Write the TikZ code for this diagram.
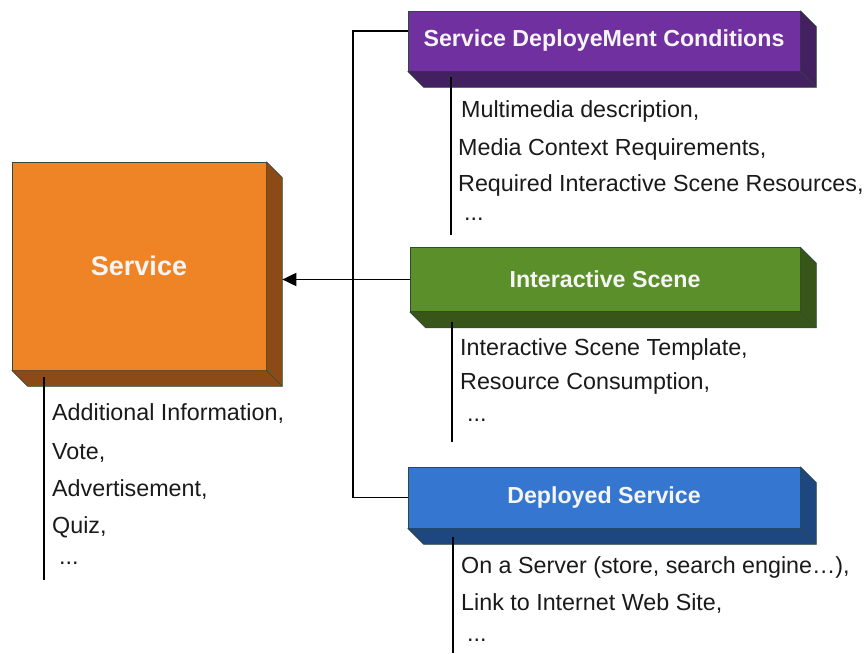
\documentclass[tikz,border=0pt]{standalone}
\usepackage{fontspec}
\setmainfont{Liberation Sans}
\usetikzlibrary{calc,arrows.meta}
\definecolor{cOrange}{HTML}{EF8427}
\definecolor{cOrangeD}{HTML}{8C4A17}
\definecolor{cPurple}{HTML}{7030A0}
\definecolor{cPurpleD}{HTML}{43205F}
\definecolor{cGreen}{HTML}{5A8F29}
\definecolor{cGreenD}{HTML}{385619}
\definecolor{cBlue}{HTML}{3577D0}
\definecolor{cBlueD}{HTML}{1F477F}
\definecolor{cEdge}{HTML}{2E4A3A}
\definecolor{cText}{HTML}{1A1A1A}
\newcommand\extrude[2]{%
  \fill[#2] (#1.north east) -- ($(#1.north east)+(16,16)$) -- ($(#1.south east)+(16,16)$)
     -- ($(#1.south west)+(16,16)$) -- (#1.south west) -- (#1.south east) -- cycle;
  \draw[edgeline] (#1.north east) -- ($(#1.north east)+(16,16)$) -- ($(#1.south east)+(16,16)$)
     -- ($(#1.south west)+(16,16)$) -- (#1.south west);
  \draw[edgeline,line width=0.4pt] (#1.south east) -- ($(#1.south east)+(16,16)$);
}
\tikzset{
  edgeline/.style={draw=cEdge, line width=0.7pt},
  face/.style={draw=cEdge, line width=0.7pt, inner sep=0pt, text=white!96!black},
  titlebox/.style={face, font=\fontsize{23.2}{27}\selectfont\bfseries},
  wire/.style={draw=black, line width=1.9pt},
  item/.style={anchor=base west, inner sep=0pt, text=cText, font=\fontsize{23.3}{27}\selectfont},
}
\begin{document}
\begin{tikzpicture}[x=1pt,y=-1pt]
\useasboundingbox (0,0) rectangle (864,653);

% boxes
\node[face, fill=cOrange, minimum width=254pt, minimum height=208pt,
      font=\fontsize{27}{31}\selectfont\bfseries] (svc) at (139,266) {Service};
\extrude{svc}{cOrangeD}
\node[titlebox, fill=cPurple, minimum width=392pt, minimum height=60pt] (pdc) at (604,41) {Service DeployeMent Conditions};
\extrude{pdc}{cPurpleD}
\node[titlebox, fill=cGreen, minimum width=390pt, minimum height=64pt] (is) at (605,279.5) {Interactive Scene};
\extrude{is}{cGreenD}
\node[titlebox, fill=cBlue, minimum width=392pt, minimum height=61pt] (ds) at (604,497.5) {Deployed Service};
\extrude{ds}{cBlueD}

% connectors
\coordinate (jt) at (353,31);
\coordinate (svcR) at ($(svc.east)+(16,0)$);
\draw[wire] (pdc.west |- jt) -- (jt) |- (ds.west);
\draw[wire, -{Triangle[length=14pt,width=13pt]}] (is.west) -- (is.west -| svcR);

% list stems
\coordinate (s1a) at (451,77);  \coordinate (s1b) at (451,235);
\coordinate (s2a) at (452,322); \coordinate (s2b) at (452,442);
\coordinate (s3a) at (453,537); \coordinate (s3b) at (453,653);
\coordinate (s0a) at (44,377);  \coordinate (s0b) at (44,580);
\draw[wire] (s1a) -- (s1b);
\draw[wire] (s2a) -- (s2b);
\draw[wire] (s3a) -- (s3b);
\draw[wire] (s0a) -- (s0b);

% lists
\node[item] (t11) at (461,117) {Multimedia description,};
\node[item] (t12) at (458,155) {Media Context Requirements,};
\node[item] (t13) at (458,191) {Required Interactive Scene Resources,};
\node[item] (t14) at (464,220) {...};

\node[item] (t21) at (460,355) {Interactive Scene Template,};
\node[item] (t22) at (460,389) {Resource Consumption,};
\node[item] (t23) at (467,421) {...};

\node[item] (t31) at (461,573) {On a Server (store, search engine…),};
\node[item] (t32) at (461,610) {Link to Internet Web Site,};
\node[item] (t33) at (467,641) {...};

\node[item] (t01) at (52,420) {Additional Information,};
\node[item] (t02) at (52,459) {Vote,};
\node[item] (t03) at (52,496) {Advertisement,};
\node[item] (t04) at (52,533) {Quiz,};
\node[item] (t05) at (59,564) {...};
\end{tikzpicture}
\end{document}
